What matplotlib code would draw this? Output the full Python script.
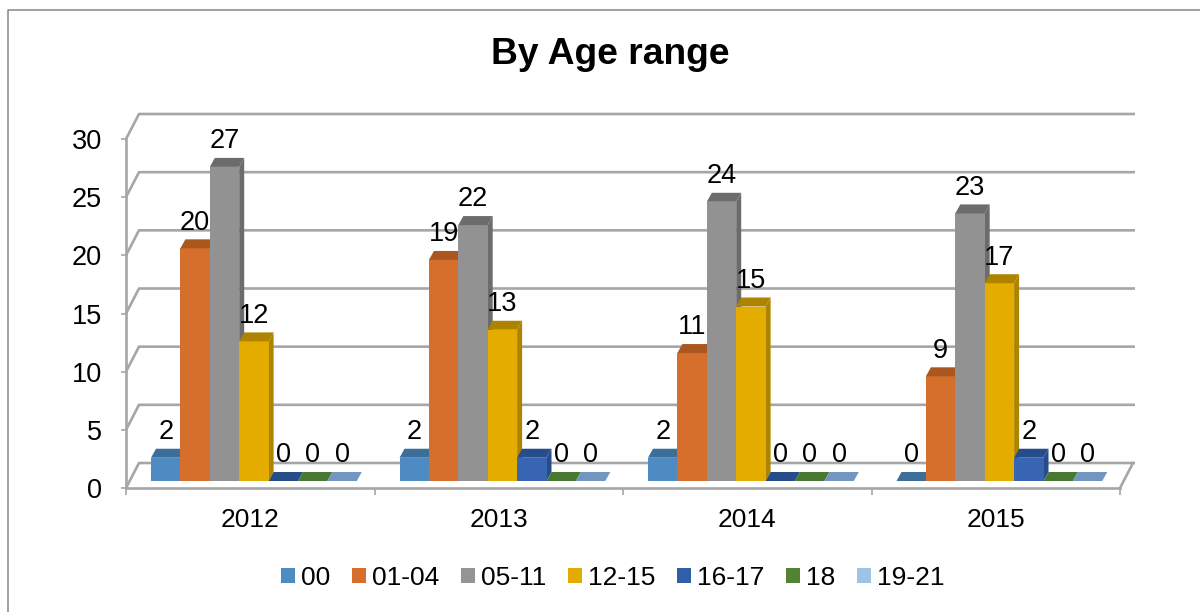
import matplotlib
matplotlib.use('Agg')
import matplotlib.pyplot as plt
from matplotlib.lines import Line2D
from matplotlib.patches import Patch, Polygon

plt.rcParams['font.family'] = ['Liberation Sans', 'DejaVu Sans']

years = ['2012', '2013', '2014', '2015']
series_names = ['00', '01-04', '05-11', '12-15', '16-17', '18', '19-21']
v00 = [2, 2, 2, 0]
v01_04 = [20, 19, 11, 9]
v05_11 = [27, 22, 24, 23]
v12_15 = [12, 13, 15, 17]
v16_17 = [0, 2, 0, 2]
v18 = [0, 0, 0, 0]
v19_21 = [0, 0, 0, 0]
all_values = [v00, v01_04, v05_11, v12_15, v16_17, v18, v19_21]

front_colors = ['#4E8BC2', '#D56F2B', '#929292', '#E5AC00', '#3765B2', '#548235', '#8FB4DC']
top_colors = ['#3C6E9A', '#A9571F', '#6C6C6C', '#AE8300', '#274C8A', '#477A30', '#7396C0']
legend_colors = ['#4E8BC2', '#D56F2B', '#949494', '#E3AB00', '#2F5FA8', '#548235', '#9DC3E6']
grid_color = '#A6A6A6'

W, H = 1200, 612
fig = plt.figure(figsize=(W / 100, H / 100), dpi=100)
# front plane of the fake 3d box: x 126-1120, y 488-139 in pixels
ax = fig.add_axes([126 / W, 1 - 488 / H, (1120 - 126) / W, (488 - 139) / H])
ax.set_xlim(0, 4)
ax.set_ylim(0, 30)
ax.patch.set_alpha(0)

px_x = 4 / 994
px_y = 30 / 349

# wall depth and bar depth in data units
wall_dx = 13 * px_x
wall_dy = 25 * px_y
bar_dx = 5 * px_x
bar_dy = 9 * px_y
floor_dy = 7 * px_y
start = 25 * px_x
bar_w = 29.4 * px_x

# walls and floor
for t in range(0, 31, 5):
    ax.plot([0, wall_dx, 4 + 15 * px_x],
            [t, t + wall_dy, t + wall_dy],
            color=grid_color, lw=1.9, clip_on=False, zorder=1, solid_joinstyle='round',
            solid_capstyle='butt')
ax.plot([4, 4 + wall_dx], [0, wall_dy], color=grid_color, lw=1.9, clip_on=False, zorder=1)

# bars, left to right so every bar covers the side of the one before
z = 3
for g in range(len(years)):
    for s in range(len(series_names)):
        val = all_values[s][g]
        x0 = g + start + s * bar_w
        x1 = x0 + bar_w
        y0 = floor_dy
        y1 = floor_dy + val
        if val > 0:
            ax.add_patch(Polygon([(x1, y0), (x1 + bar_dx, y0 + bar_dy), (x1 + bar_dx, y1 + bar_dy), (x1, y1)],
                                 fc=top_colors[s], ec='none', clip_on=False, zorder=z))
            ax.add_patch(Polygon([(x0, y0), (x1, y0), (x1, y1), (x0, y1)],
                                 fc=front_colors[s], ec='none', clip_on=False, zorder=z))
        ax.add_patch(Polygon([(x0, y1), (x1, y1), (x1 + bar_dx, y1 + bar_dy), (x0 + bar_dx, y1 + bar_dy)],
                             fc=top_colors[s], ec='none', clip_on=False, zorder=z))
        ax.text(x0 + bar_w / 2, val + 2.8, str(val), ha='center', va='center',
                fontsize=19.5, color='black', clip_on=False, zorder=50)
        z += 1

for name in ['top', 'right']:
    ax.spines[name].set_visible(False)
for name in ['left', 'bottom']:
    ax.spines[name].set_color(grid_color)
    ax.spines[name].set_linewidth(1.9)
    ax.spines[name].set_zorder(2)

ax.set_yticks(range(0, 31, 5))
ax.set_xticks(range(5))
ax.set_xticklabels([])
ax.set_xticks([0.5, 1.5, 2.5, 3.5], labels=years, minor=True)
ax.tick_params(axis='y', labelsize=19.5, length=3.5, width=1.2, color=grid_color, pad=14)
ax.tick_params(axis='x', which='major', length=5, width=1.2, color=grid_color)
ax.tick_params(axis='x', which='minor', length=0, labelsize=19, pad=14.5)

fig.text(610 / W, 1 - 54 / H, 'By Age range', ha='center', va='center', fontsize=26.8, fontweight='bold')

handles = [Patch(fc=c, ec='none', label=n) for c, n in zip(legend_colors, series_names)]
fig.legend(handles=handles, ncols=7, frameon=False, fontsize=19, loc='center',
           bbox_to_anchor=(613 / W, 1 - 578 / H), handlelength=0.53, handleheight=0.53,
           handletextpad=0.22, columnspacing=0.83, borderpad=0, borderaxespad=0)

# chart frame, only left and top are inside the crop
fig.add_artist(Line2D([8 / W, 8 / W, 1], [0, 1 - 10 / H, 1 - 10 / H], color='#868686', lw=1.1))

fig.savefig('out.png', dpi=100)
